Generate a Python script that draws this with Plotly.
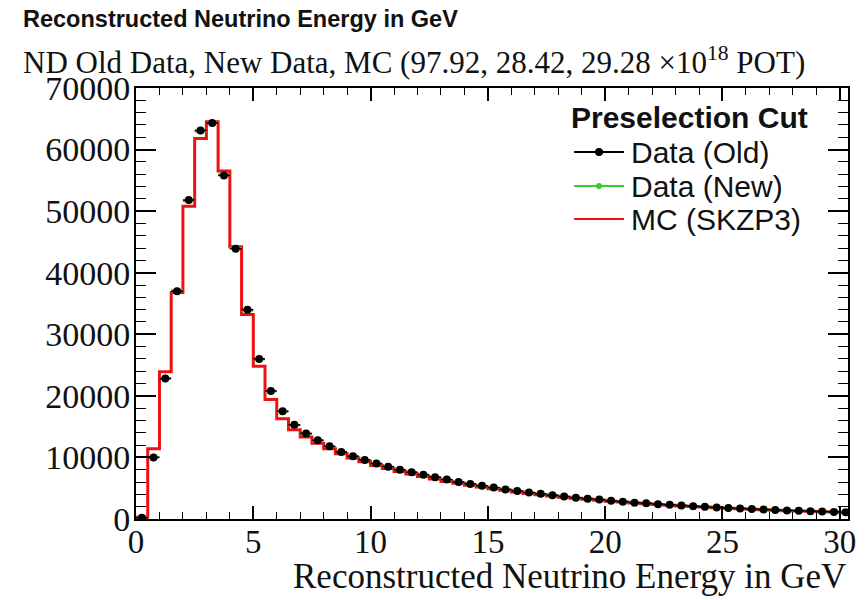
import numpy as np
import plotly.graph_objects as go

# Histogram binning: 0.5 GeV bins from 0 to 30.5 GeV
bin_edges = np.arange(0.0, 30.5 + 1e-9, 0.5)
bin_centers = 0.5 * (bin_edges[:-1] + bin_edges[1:])
bin_half_width = 0.25

# MC prediction (SKZP3), events per bin
mc_skzp3 = [
    300, 11400, 23900, 36800, 50800, 61800, 64500, 56500, 44200, 33200,
    24800, 19400, 16300, 14500, 13300, 12300, 11400, 10600, 9900, 9300,
    8700, 8200, 7700, 7300, 6900, 6500, 6100, 5800, 5500, 5200,
    4900, 4650, 4400, 4150, 3950, 3750, 3550, 3350, 3200, 3050,
    2900, 2750, 2600, 2480, 2360, 2240, 2130, 2030, 1930, 1840,
    1750, 1660, 1580, 1500, 1430, 1360, 1300, 1240, 1180, 1120,
    1070,
]

# Old data sample, events per bin
data_old = [
    200, 10000, 22800, 37000, 51800, 63100, 64300, 55800, 43900, 34000,
    26000, 20800, 17500, 15300, 13900, 12800, 11800, 10900, 10200, 9600,
    9000, 8500, 8000, 7600, 7200, 6800, 6400, 6000, 5700, 5400,
    5100, 4800, 4550, 4300, 4100, 3850, 3650, 3450, 3300, 3150,
    2950, 2800, 2650, 2550, 2400, 2300, 2180, 2080, 1980, 1880,
    1790, 1700, 1620, 1540, 1470, 1400, 1330, 1270, 1210, 1150,
    1100,
]

# New data sample (POT-normalised), events per bin
data_new = [
    210, 10100, 22900, 37200, 51600, 62900, 64400, 56000, 44100, 33800,
    25900, 20700, 17400, 15200, 13800, 12750, 11750, 10850, 10150, 9550,
    8950, 8450, 7950, 7550, 7150, 6750, 6350, 5950, 5650, 5350,
    5050, 4780, 4520, 4280, 4080, 3830, 3630, 3430, 3280, 3130,
    2930, 2790, 2640, 2530, 2390, 2290, 2170, 2070, 1970, 1870,
    1780, 1690, 1610, 1530, 1460, 1390, 1320, 1260, 1200, 1140,
    1090,
]

y_ticks = [0, 10000, 20000, 30000, 40000, 50000, 60000, 70000]
x_ticks = [0, 5, 10, 15, 20, 25, 30]

# Plot-area geometry (pixels) used for the hand-made legend and texts
W, H = 868, 600
L, R, T, B = 136, 17, 88, 81
PW, PH = W - L - R, H - T - B


def px(x):
    return (x - L) / PW


def py(y):
    return (H - B - y) / PH


RED = "#ee1111"
GREEN = "#33cc33"
BLACK = "#000000"
SERIF = "Liberation Serif"
SANS = "Liberation Sans"

fig = go.Figure()

# MC as a step histogram starting from the baseline
step_x = np.concatenate([[bin_edges[0]], bin_edges])
step_y = np.concatenate([[0], mc_skzp3, [mc_skzp3[-1]]])
fig.add_trace(go.Scatter(
    x=step_x, y=step_y, mode="lines", line_shape="hv",
    line=dict(color=RED, width=3), showlegend=False, hoverinfo="skip",
))

# Data points with horizontal bin-width bars
for values, color, size in ((data_new, GREEN, 5), (data_old, BLACK, 8)):
    fig.add_trace(go.Scatter(
        x=bin_centers, y=values, mode="markers",
        marker=dict(color=color, size=size, symbol="circle"),
        error_x=dict(type="constant", value=bin_half_width, width=0,
                     thickness=1.6, color=color),
        showlegend=False,
    ))

annotations = [
    dict(text="<b>Reconstructed Neutrino Energy in GeV</b>",
         x=px(21), y=py(19), xanchor="left", yanchor="middle",
         font=dict(family=SANS, size=23.5, color="#111")),
    dict(text="ND Old Data, New Data, MC (97.92, 28.42, 29.28 \u00d710<sup>18</sup> POT)",
         x=px(21), y=py(60), xanchor="left", yanchor="middle",
         font=dict(family=SERIF, size=31, color="#111")),
    dict(text="Reconstructed Neutrino Energy in GeV",
         x=px(851), y=py(576), xanchor="right", yanchor="middle",
         font=dict(family=SERIF, size=35, color="#111")),
    dict(text="<b>Preselection Cut</b>",
         x=px(571), y=py(118), xanchor="left", yanchor="middle",
         font=dict(family=SANS, size=30, color="#111")),
]

shapes = []
legend_rows = [("Data (Old)", BLACK, 152, 4), ("Data (New)", GREEN, 186, 3),
               ("MC (SKZP3)", RED, 219, 0)]
for label, color, yc, r in legend_rows:
    annotations.append(dict(
        text=label, x=px(631), y=py(yc), xanchor="left", yanchor="middle",
        font=dict(family=SANS, size=30, color="#111")))
    shapes.append(dict(type="line", xref="paper", yref="paper",
                       x0=px(576), x1=px(626), y0=py(yc), y1=py(yc),
                       line=dict(color=color, width=2.2)))
    if r:
        shapes.append(dict(type="circle", xref="paper", yref="paper",
                           x0=px(601 - r), x1=px(601 + r),
                           y0=py(yc + r), y1=py(yc - r),
                           fillcolor=color, line=dict(color=color, width=0)))

for a in annotations:
    a.update(xref="paper", yref="paper", showarrow=False)

axis_common = dict(
    showgrid=False, zeroline=False, showline=True, linecolor=BLACK,
    linewidth=2, mirror="allticks", ticks="inside", tickcolor=BLACK,
    tickwidth=1.5,
)

fig.update_layout(
    width=W, height=H,
    margin=dict(l=L, r=R, t=T, b=B),
    paper_bgcolor="white", plot_bgcolor="white",
    annotations=annotations, shapes=shapes,
    showlegend=False,
    xaxis=dict(
        range=[0, 30.35], tickvals=x_ticks, ticklen=13,
        minor=dict(dtick=1, ticks="inside", ticklen=7, tickcolor=BLACK,
                   tickwidth=1.2, showgrid=False),
        tickfont=dict(family=SERIF, size=33, color="#111"),
        ticklabelstandoff=-8,
        **axis_common,
    ),
    yaxis=dict(
        range=[0, 70000], tickvals=y_ticks, ticklen=20,
        tickformat="d",
        minor=dict(dtick=2000, ticks="inside", ticklen=10, tickcolor=BLACK,
                   tickwidth=1.2, showgrid=False),
        tickfont=dict(family=SERIF, size=34, color="#111"),
        ticklabelstandoff=-3,
        **axis_common,
    ),
)

fig.write_html("out.html")
